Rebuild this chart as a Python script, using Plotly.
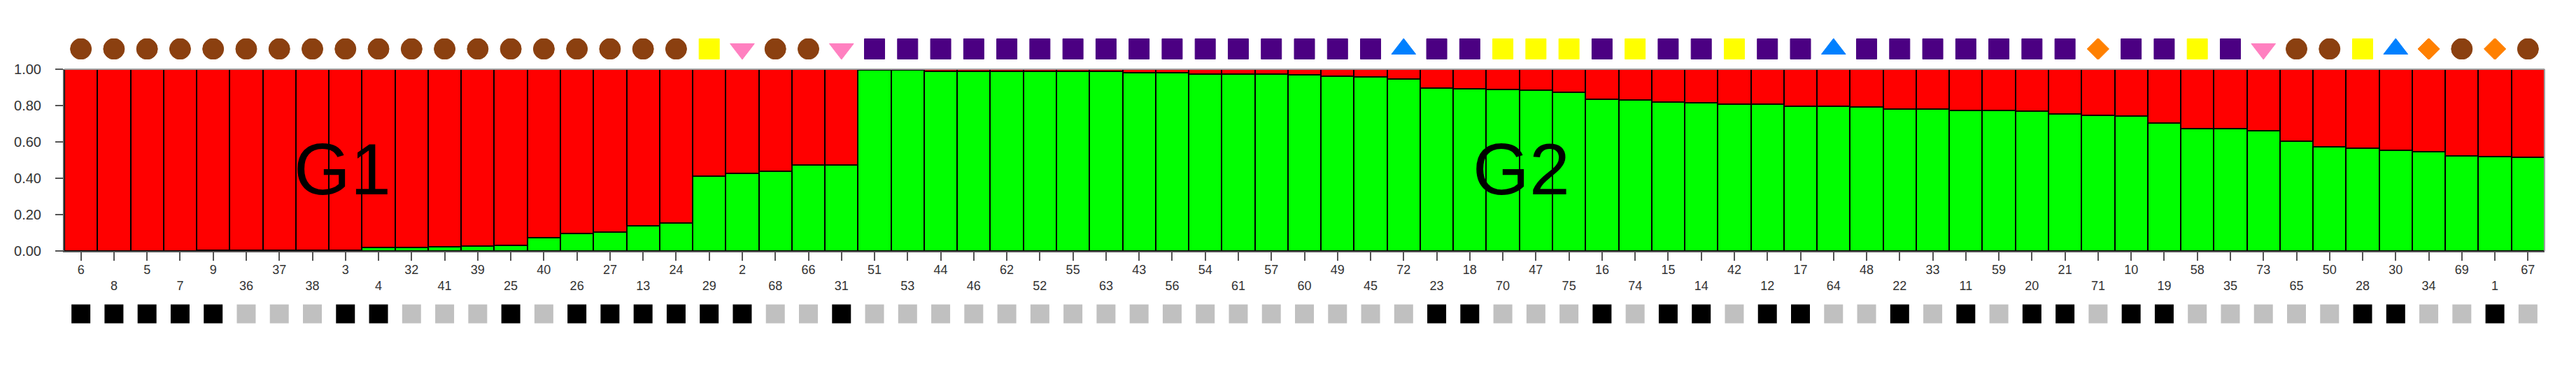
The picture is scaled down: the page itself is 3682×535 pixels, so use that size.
import plotly.graph_objects as go

# ---- data -------------------------------------------------------------
sample_ids = [6, 8, 5, 7, 9, 36, 37, 38, 3, 4, 32, 41, 39, 25, 40, 26, 27, 13, 24, 29,
              2, 68, 66, 31, 51, 53, 44, 46, 62, 52, 55, 63, 43, 56, 54, 61, 57, 60, 49, 45,
              72, 23, 18, 70, 47, 75, 16, 74, 15, 14, 42, 12, 17, 64, 48, 22, 33, 11, 59, 20,
              21, 71, 10, 19, 58, 35, 73, 65, 50, 28, 30, 34, 69, 1, 67]

# membership coefficient of cluster G2 (green); G1 (red) = 1 - G2
g2_share = [0.0, 0.0, 0.0, 0.0, 0.005, 0.005, 0.005, 0.005, 0.005, 0.02,
            0.02, 0.025, 0.026, 0.032, 0.075, 0.097, 0.103, 0.138, 0.152, 0.413,
            0.426, 0.439, 0.474, 0.474, 0.995, 0.995, 0.99, 0.99, 0.99, 0.99,
            0.99, 0.99, 0.98, 0.98, 0.975, 0.975, 0.975, 0.968, 0.961, 0.957,
            0.946, 0.897, 0.894, 0.888, 0.884, 0.874, 0.836, 0.83, 0.819, 0.817,
            0.809, 0.809, 0.796, 0.796, 0.794, 0.781, 0.781, 0.774, 0.774, 0.768,
            0.752, 0.748, 0.742, 0.703, 0.675, 0.675, 0.661, 0.604, 0.574, 0.564,
            0.555, 0.546, 0.525, 0.519, 0.516]
g1_share = [round(1 - v, 3) for v in g2_share]

# origin group of each sample (top symbol row)
origin = (["brown"] * 19 + ["yellow", "pink", "brown", "brown", "pink"] + ["purple"] * 16 +
          ["blue", "purple", "purple", "yellow", "yellow", "yellow", "purple", "yellow",
           "purple", "purple", "yellow", "purple", "purple", "blue"] + ["purple"] * 7 +
          ["orange", "purple", "purple", "yellow", "purple", "pink", "brown", "brown",
           "yellow", "blue", "orange", "brown", "orange", "brown"])

# second attribute (bottom square row): K = black, G = grey
attribute = list("KKKKKGGGKKGGGKGKKKKKKGGKG") + ["G"] * 16 + \
    list("KKGGGKGKKGKKGGKGKGKKGKK") + list("GGGGGKKGGKG")

cluster_labels = ["G1", "G2"]
cluster_label_pos = [8.9, 44.55]   # bar position of the cluster names

# ---- styles -----------------------------------------------------------
origin_style = {
    "brown":  dict(symbol="circle", color="#8B4010", size=30),
    "yellow": dict(symbol="square", color="#FFFF00", size=29),
    "pink":   dict(symbol="triangle-down", color="#FF80C0", size=30),
    "purple": dict(symbol="square", color="#4B0082", size=29),
    "blue":   dict(symbol="triangle-up", color="#0080FF", size=30),
    "orange": dict(symbol="diamond", color="#FF8000", size=24),
}
attr_style = {"K": "#000000", "G": "#C0C0C0"}

OFF = 8                      # default page margin of the html body
W, H = 3682 - OFF, 535 - OFF
ML, MR, MT, MB = 89 - OFF, 45, 50 - OFF, 70
paper_h = H - MT - MB


def dom(top_px, bottom_px):
    """window pixel rows -> paper domain"""
    top_px -= OFF
    bottom_px -= OFF
    return [(H - MB - bottom_px) / paper_h, (H - MB - top_px) / paper_h]


x = list(range(1, len(sample_ids) + 1))

fig = go.Figure()
fig.add_trace(go.Bar(x=x, y=g2_share, marker=dict(color="#00FF00",
                     line=dict(color="#000000", width=2)), name="G2"))
fig.add_trace(go.Bar(x=x, y=g1_share, marker=dict(color="#FF0000",
                     line=dict(color="#000000", width=2)), name="G1"))

for key, st in origin_style.items():
    xs = [xi for xi, o in zip(x, origin) if o == key]
    fig.add_trace(go.Scatter(
        x=xs, y=[0.5] * len(xs), mode="markers", yaxis="y2",
        marker=dict(symbol=st["symbol"], color=st["color"], size=st["size"],
                    line=dict(width=1, color=st["color"])),
        showlegend=False, hoverinfo="skip"))

for key, col in attr_style.items():
    xs = [xi for xi, a in zip(x, attribute) if a == key]
    fig.add_trace(go.Scatter(
        x=xs, y=[0.5] * len(xs), mode="markers", yaxis="y3",
        marker=dict(symbol="square", color=col, size=27, line=dict(width=0)),
        showlegend=False, hoverinfo="skip"))

ticktext = [str(s) if i % 2 == 0 else "<br>" + str(s) for i, s in enumerate(sample_ids)]

fig.update_layout(
    width=W, height=H, barmode="stack", bargap=0, showlegend=False,
    plot_bgcolor="white", paper_bgcolor="white",
    margin=dict(l=ML, r=MR, t=MT, b=MB),
    font=dict(family="Liberation Sans, Arial", size=18, color="#333333"),
    xaxis=dict(range=[0.5, len(x) + 0.5], tickvals=x, ticktext=ticktext,
               ticks="outside", ticklen=12, tickwidth=1.5, tickcolor="#555555",
               showline=True, linecolor="#555555", linewidth=2,
               showgrid=False, zeroline=False, tickangle=0, ticklabelstandoff=-3,
               tickfont=dict(size=18, color="#333333")),
    yaxis=dict(domain=dom(99, 359), range=[0, 1],
               tickvals=[0, 0.2, 0.4, 0.6, 0.8, 1.0], tickformat=".2f",
               ticks="outside", ticklen=11, tickwidth=1.5, tickcolor="#555555",
               showline=True, linecolor="#555555", linewidth=2,
               showgrid=False, zeroline=False, ticklabelstandoff=16,
               tickfont=dict(size=20, color="#333333")),
    yaxis2=dict(domain=dom(55, 85), range=[0, 1], anchor="x", visible=False,
                fixedrange=True),
    yaxis3=dict(domain=dom(434, 464), range=[0, 1], anchor="x", visible=False,
                fixedrange=True),
    shapes=[
        dict(type="line", xref="paper", yref="y domain", x0=0, x1=1, y0=1, y1=1,
             line=dict(color="#A0A0A0", width=2)),
        dict(type="line", xref="paper", yref="y domain", x0=1, x1=1, y0=0, y1=1,
             line=dict(color="#A0A0A0", width=2)),
    ],
)

for lbl, pos in zip(cluster_labels, cluster_label_pos):
    fig.add_annotation(x=pos, y=0.45, xref="x", yref="y", text=lbl, showarrow=False,
                       font=dict(family="Liberation Sans, Arial", size=104, color="#000000"))

fig.write_html("out.html")
